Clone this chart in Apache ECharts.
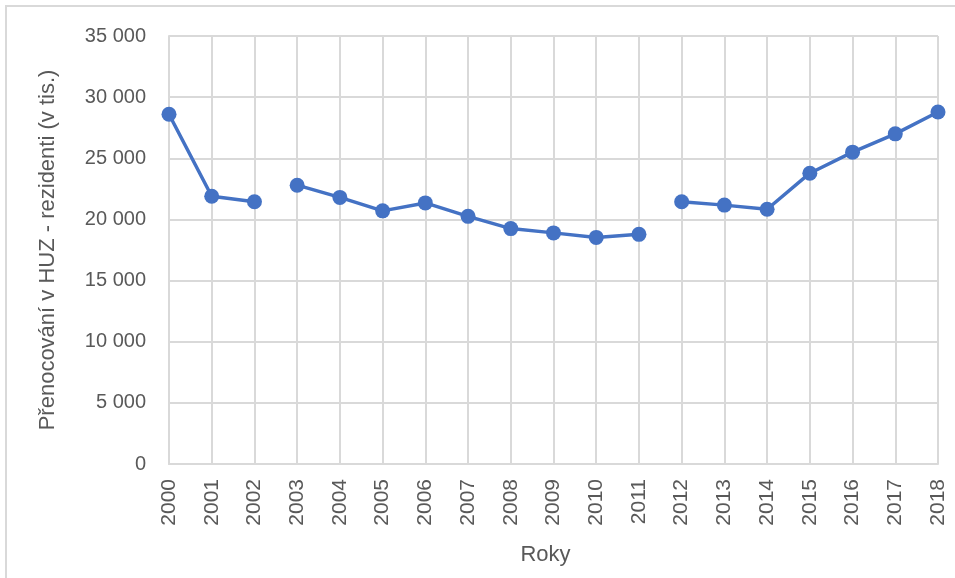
<!DOCTYPE html>
<html lang="cs">
<head>
<meta charset="UTF-8">
<title>Přenocování v HUZ - rezidenti</title>
<style>
html, body { margin: 0; padding: 0; background: #fff; }
#frame { position: absolute; left: 5px; top: 5px; width: 960px; height: 580px; border-left: 2px solid #d9d9d9; border-top: 2px solid #d9d9d9; }
#main { position: absolute; left: 0; top: 0; width: 955px; height: 578px; }
</style>
</head>
<body>
<div id="frame"></div>
<div id="main"></div>

<script src="https://cdn.jsdelivr.net/npm/echarts@6/dist/echarts.min.js"></script>
<script>
var years = ['2000','2001','2002','2003','2004','2005','2006','2007','2008','2009',
             '2010','2011','2012','2013','2014','2015','2016','2017','2018'];
// přenocování rezidentů v tis.
var values = [28600, 21900, 21450, 22800, 21800, 20700, 21350, 20250, 19250, 18900,
              18530, 18780, 21450, 21170, 20830, 23780, 25500, 27000, 28780];
// úseky, mezi kterými je čára přerušená (index od, do)
var segments = [[0, 2], [3, 11], [12, 18]];

var myChart = echarts.init(document.getElementById('main'));

var txt = '#595959';
var grid = '#d9d9d9';

function fmt(v) {
    var s = String(v);
    if (s.length > 3) s = s.slice(0, s.length - 3) + ' ' + s.slice(-3);
    return s;
}

var series = segments.map(function(seg) {
    return {
        type: 'line',
        data: values.map(function(v, i) { return (i >= seg[0] && i <= seg[1]) ? v : null; }),
        connectNulls: false,
        symbol: 'circle',
        symbolSize: 15,
        lineStyle: { color: '#4472C4', width: 3.5 },
        itemStyle: { color: '#4472C4' },
        emphasis: { disabled: true }
    };
});

option = {
    animation: false,
    textStyle: { fontFamily: 'Liberation Sans' },
    grid: { left: 169, right: 17, top: 36, bottom: 114 },
    xAxis: {
        type: 'category',
        data: years,
        boundaryGap: false,
        name: 'Roky',
        nameLocation: 'middle',
        nameGap: 80,
        nameTextStyle: { color: txt, fontSize: 22, verticalAlign: 'top', padding: [0, 16, 0, 0] },
        axisLine: { lineStyle: { color: grid, width: 2 } },
        axisTick: { show: false },
        axisLabel: { color: txt, fontSize: 21, rotate: 90, margin: 15, interval: 0 },
        splitLine: { show: true, lineStyle: { color: grid, width: 2 } }
    },
    yAxis: {
        type: 'value',
        min: 0,
        max: 35000,
        interval: 5000,
        name: 'Přenocování v HUZ - rezidenti (v tis.)',
        nameLocation: 'middle',
        nameGap: 110,
        nameTextStyle: { color: txt, fontSize: 22 },
        axisLine: { show: true, lineStyle: { color: grid, width: 2 } },
        axisTick: { show: false },
        axisLabel: { color: txt, fontSize: 20, margin: 23, formatter: fmt },
        splitLine: { lineStyle: { color: grid, width: 2 } }
    },
    series: series
};

myChart.setOption(option);
</script>
</body>
</html>
